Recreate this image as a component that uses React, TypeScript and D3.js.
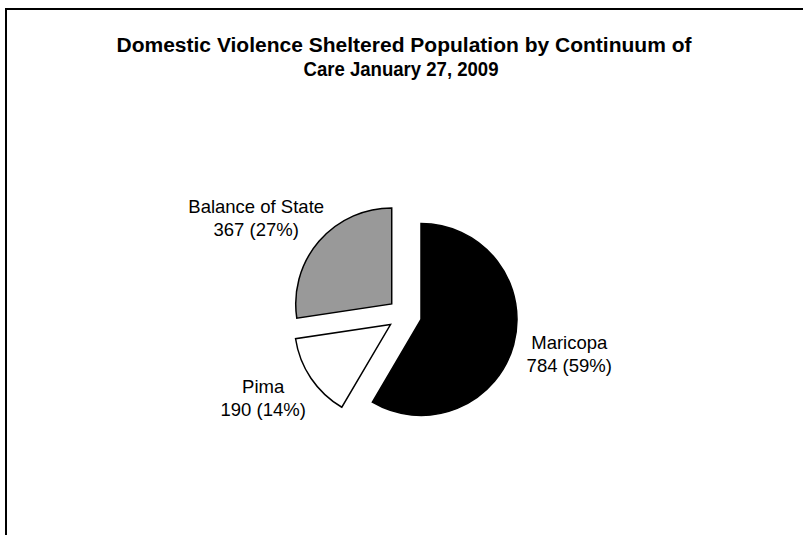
import React, { useEffect, useRef } from "react";
import * as d3 from "d3";

const categories = ["Maricopa", "Pima", "Balance of State"];
const values = [784, 190, 367];
const colors = ["#000000", "#ffffff", "#999999"];
const titleLines = [
  "Domestic Violence Sheltered Population by Continuum of",
  "Care January 27, 2009",
];

const W = 803;
const H = 535;

// Percentages rounded so they add up to 100 (largest remainder), as the source shows.
function roundedPercents(vals: number[]): number[] {
  const total = d3.sum(vals);
  const raw = vals.map((v) => (v / total) * 100);
  const floors = raw.map((p) => Math.floor(p));
  let left = 100 - d3.sum(floors);
  const order = d3.range(vals.length).sort(
    (a, b) => raw[b] - floors[b] - (raw[a] - floors[a])
  );
  const out = floors.slice();
  for (const i of order) {
    if (left <= 0) break;
    out[i] += 1;
    left -= 1;
  }
  return out;
}

export default function App() {
  const ref = useRef<SVGSVGElement>(null);

  useEffect(() => {
    const svg = d3.select(ref.current);
    svg.selectAll("*").remove();
    const font = "Arial, 'Liberation Sans', sans-serif";

    svg
      .append("rect")
      .attr("x", 6)
      .attr("y", 9)
      .attr("width", 900)
      .attr("height", 700)
      .attr("fill", "#fff")
      .attr("stroke", "#000")
      .attr("stroke-width", 2);

    const titleWidths = [575, 195];
    const titleCenters = [404, 401];
    svg
      .append("g")
      .selectAll("text")
      .data(titleLines)
      .join("text")
      .attr("x", (_, i) => titleCenters[i])
      .attr("y", (_, i) => 52 + i * 24)
      .attr("text-anchor", "middle")
      .attr("font-family", font)
      .attr("font-weight", "bold")
      .attr("font-size", 20)
      .attr("textLength", (_, i) => titleWidths[i])
      .attr("lengthAdjust", "spacingAndGlyphs")
      .attr("fill", "#000")
      .text((d) => d);

    const cx = 404.6;
    const cy = 315;
    const r = 96;
    const explode = 17;

    const pie = d3
      .pie<number>()
      .sort(null)
      .value((d) => d)
      .startAngle(0)
      .endAngle(2 * Math.PI);
    const arcs = pie(values);
    const arc = d3.arc<d3.PieArcDatum<number>>().innerRadius(0).outerRadius(r);

    const g = svg.append("g");
    arcs.forEach((a, i) => {
      const mid = (a.startAngle + a.endAngle) / 2;
      const dx = Math.sin(mid);
      const dy = -Math.cos(mid);
      g.append("path")
        .attr("d", arc(a) as string)
        .attr("transform", `translate(${cx + dx * explode},${cy + dy * explode})`)
        .attr("fill", colors[i])
        .attr("stroke", "#000")
        .attr("stroke-width", 1.5)
        .attr("stroke-linejoin", "miter");
    });

    const pcts = roundedPercents(values);
    const R = 128;
    arcs.forEach((a, i) => {
      const mid = (a.startAngle + a.endAngle) / 2;
      const dx = Math.sin(mid);
      const dy = -Math.cos(mid);
      const lines = [categories[i], `${values[i]} (${pcts[i]}%)`];
      const lg = svg.append("g");
      lg.selectAll("text")
        .data(lines)
        .join("text")
        .attr("x", 0)
        .attr("y", (_, j) => j * 23)
        .attr("text-anchor", "middle")
        .attr("font-family", font)
        .attr("font-size", 18.5)
        .attr("fill", "#000")
        .text((d) => d);
      const bb = (lg.node() as SVGGElement).getBBox();
      const hw = bb.width / 2;
      const hh = 20;
      const px = cx + dx * R + dx * hw;
      const py = cy + dy * R + dy * hh;
      const bcy = bb.y + bb.height / 2;
      lg.attr("transform", `translate(${px},${py - bcy})`);
    });
  }, []);

  return (
    <svg
      ref={ref}
      width={W}
      height={H}
      style={{ position: "absolute", left: 0, top: 0, background: "#fff" }}
    />
  );
}
